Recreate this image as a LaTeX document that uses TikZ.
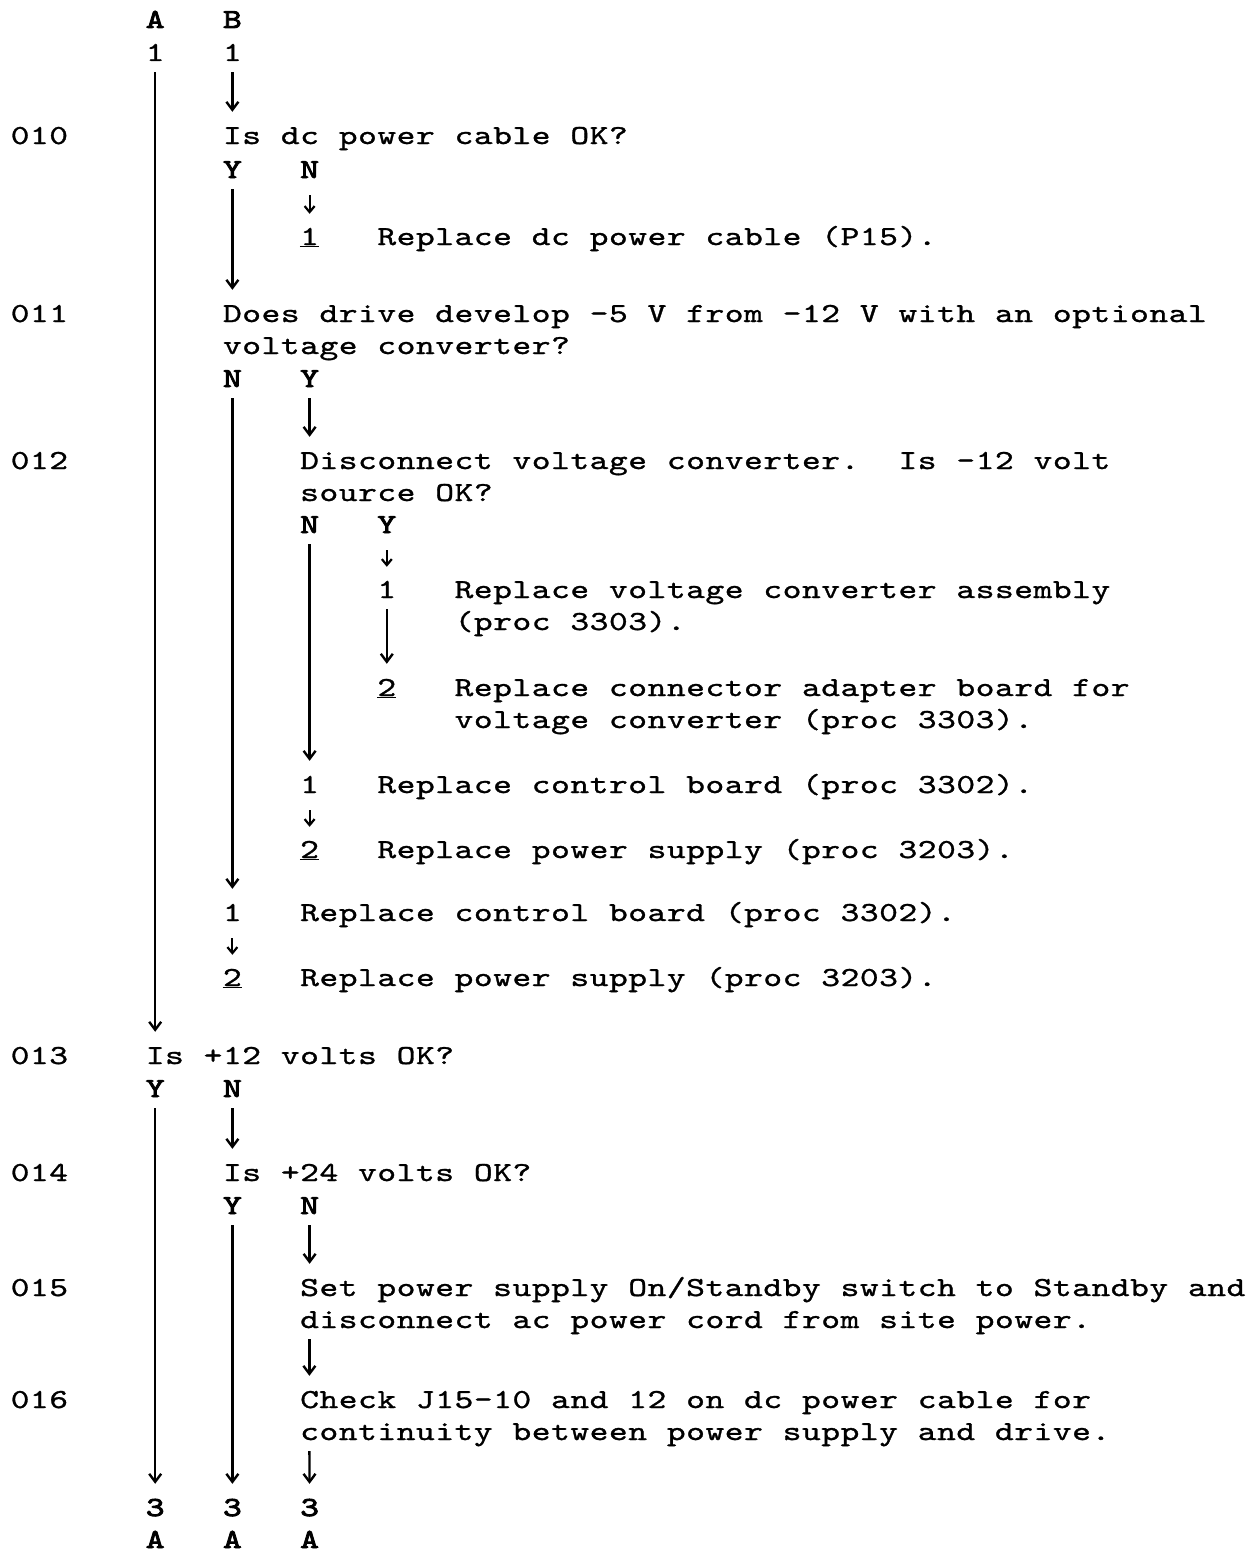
\documentclass[tikz,border=0pt]{standalone}
\usepackage{fontspec}
\usepackage{tikz}
\usetikzlibrary{arrows.meta}
\newfontfamily\typefont{lmmono10-regular.otf}[FakeStretch=1.3, FakeBold=1.1]
\newfontfamily\keyfont{lmmono10-regular.otf}[FakeStretch=1.3, FakeBold=3.2]

% one typewriter cell per character, '_' is an extra blank cell
\newdimen\cellw \cellw=19.3pt
\ExplSyntaxOn
\NewDocumentCommand \tline { m }
  {
    \str_map_inline:nn {#1}
      {
        \str_if_eq:nnTF {##1} {_}
          { \hbox_to_wd:nn { \cellw } { } }
          { \hbox_to_wd:nn { \cellw } { \hfil ##1 \hfil } }
      }
  }
\ExplSyntaxOff

\begin{document}
\begin{tikzpicture}[x=19.3pt, y=-1pt,
    txt/.style={anchor=base west, inner sep=0pt, text height=16pt, text depth=0pt,
        font=\typefont\fontsize{27.5}{32.5}\selectfont},
    key/.style={txt, font=\keyfont\fontsize{27.5}{32.5}\selectfont},
    flow/.style={line width=2.4pt, -{Straight Barb[length=8pt,width=12pt]},
        shorten <=11pt, shorten >=16pt},
    tick/.style={line width=2.2pt, -{Straight Barb[length=6pt,width=10pt]},
        shorten <=17pt, shorten >=15pt}]
    \useasboundingbox (-7.531,0) rectangle (57.598,1552);

    % entry points
    \node[key] (ha) at (0, 28) {\tline{A}};
    \node[key] (hb) at (4, 28) {\tline{B}};
    \node[txt] (a1) at (0, 61) {\tline{1}};
    \node[txt] (b1) at (4, 61) {\tline{1}};

    % step numbers
    \node[txt] (s10) at (-7, 144) {\tline{010}};
    \node[txt] (s11) at (-7, 322) {\tline{011}};
    \node[txt] (s12) at (-7, 469) {\tline{012}};
    \node[txt] (s13) at (-7, 1064) {\tline{013}};
    \node[txt] (s14) at (-7, 1181) {\tline{014}};
    \node[txt] (s15) at (-7, 1296) {\tline{015}};
    \node[txt] (s16) at (-7, 1408) {\tline{016}};

    % 010
    \node[txt] (q10) at (4, 144) {\tline{Is dc power cable OK?}};
    \node[key] (q10y) at (4, 178) {\tline{Y}};
    \node[key] (q10n) at (8, 178) {\tline{N}};
    \node[txt] (r10) at (8, 245) {\underline{\tline{1}}};
    \node[txt] (t10) at (12, 245) {\tline{Replace dc power cable (P15).}};

    % 011
    \node[txt] (q11) at (4, 322) {\tline{Does drive develop -5 V from -12 V with an optional}};
    \node[txt] (q11b) at (4, 354) {\tline{voltage converter?}};
    \node[key] (q11n) at (4, 387) {\tline{N}};
    \node[key] (q11y) at (8, 387) {\tline{Y}};

    % 012
    \node[txt] (q12) at (8, 469) {\tline{Disconnect voltage converter.__Is -12 volt}};
    \node[txt] (q12b) at (8, 501) {\tline{source OK?}};
    \node[key] (q12n) at (8, 533) {\tline{N}};
    \node[key] (q12y) at (12, 533) {\tline{Y}};
    \node[txt] (y1) at (12, 598) {\tline{1}};
    \node[txt] (y1t) at (16, 598) {\tline{Replace voltage converter assembly}};
    \node[txt] (y1u) at (16, 630) {\tline{(proc 3303).}};
    \node[txt] (y2) at (12, 696) {\underline{\tline{2}}};
    \node[txt] (y2t) at (16, 696) {\tline{Replace connector adapter board for}};
    \node[txt] (y2u) at (16, 728) {\tline{voltage converter (proc 3303).}};
    \node[txt] (n1) at (8, 793) {\tline{1}};
    \node[txt] (n1t) at (12, 793) {\tline{Replace control board (proc 3302).}};
    \node[txt] (n2) at (8, 858) {\underline{\tline{2}}};
    \node[txt] (n2t) at (12, 858) {\tline{Replace power supply (proc 3203).}};

    % 011 N
    \node[txt] (m1) at (4, 921) {\tline{1}};
    \node[txt] (m1t) at (8, 921) {\tline{Replace control board (proc 3302).}};
    \node[txt] (m2) at (4, 986) {\underline{\tline{2}}};
    \node[txt] (m2t) at (8, 986) {\tline{Replace power supply (proc 3203).}};

    % 013 / 014
    \node[txt] (q13) at (0, 1064) {\tline{Is +12 volts OK?}};
    \node[key] (q13y) at (0, 1097) {\tline{Y}};
    \node[key] (q13n) at (4, 1097) {\tline{N}};
    \node[txt] (q14) at (4, 1181) {\tline{Is +24 volts OK?}};
    \node[key] (q14y) at (4, 1214) {\tline{Y}};
    \node[key] (q14n) at (8, 1214) {\tline{N}};

    % 015 / 016
    \node[txt] (q15) at (8, 1296) {\tline{Set power supply On/Standby switch to Standby and}};
    \node[txt] (q15b) at (8, 1328) {\tline{disconnect ac power cord from site power.}};
    \node[txt] (q16) at (8, 1408) {\tline{Check J15-10 and 12 on dc power cable for}};
    \node[txt] (q16b) at (8, 1440) {\tline{continuity between power supply and drive.}};

    % exits
    \node[key] (x1) at (0, 1516) {\tline{3}};
    \node[key] (x2) at (4, 1516) {\tline{3}};
    \node[key] (x3) at (8, 1516) {\tline{3}};
    \node[key] (xa1) at (0, 1548) {\tline{A}};
    \node[key] (xa2) at (4, 1548) {\tline{A}};
    \node[key] (xa3) at (8, 1548) {\tline{A}};

    % connectors
    \draw[flow] (a1.south) -- (a1.south |- q13.north);
    \draw[flow] (b1.south) -- (b1.south |- q10.north);
    \draw[flow] (q10y.south) -- (q10y.south |- q11.north);
    \draw[tick] (q10n.south) -- (r10.north);
    \draw[flow] (q11n.south) -- (m1.north);
    \draw[flow] (q11y.south) -- (q11y.south |- q12.north);
    \draw[flow] (q12n.south) -- (n1.north);
    \draw[tick] (q12y.south) -- (y1.north);
    \draw[flow] (y1.south) -- (y2.north);
    \draw[tick] (n1.south) -- (n2.north);
    \draw[tick] (m1.south) -- (m2.north);
    \draw[flow] (q13y.south) -- (x1.north);
    \draw[flow] (q13n.south) -- (q13n.south |- q14.north);
    \draw[flow] (q14y.south) -- (x2.north);
    \draw[flow] (q14n.south) -- (q14n.south |- q15.north);
    \draw[flow] (q15b.south west) ++(0.5,0) coordinate (c15) (c15) -- (c15 |- q16.north);
    \draw[flow] (q16b.south west) ++(0.5,0) coordinate (c16) (c16) -- (x3.north);
\end{tikzpicture}
\end{document}
